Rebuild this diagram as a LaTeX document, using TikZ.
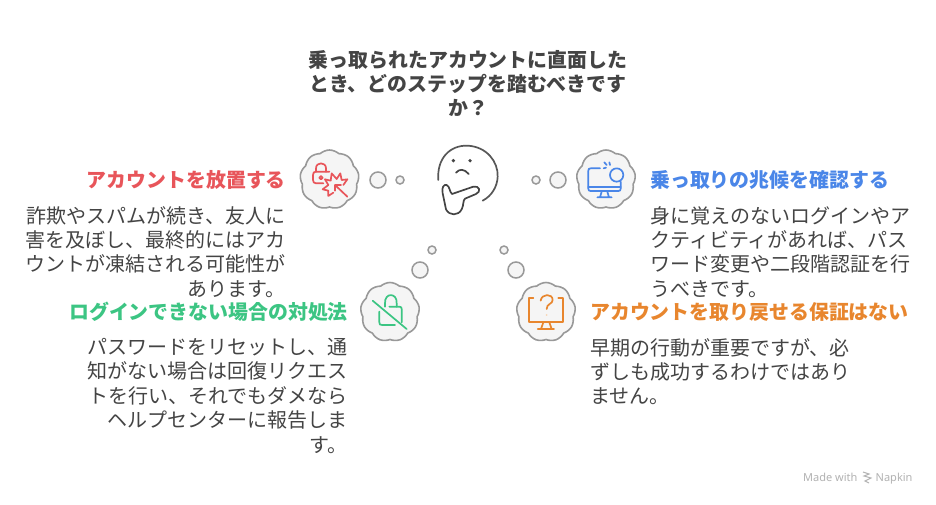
\documentclass[tikz,border=0pt]{standalone}
\usepackage{fontspec}
\setmainfont{Noto Sans CJK JP}
\newfontfamily\napkinfont{Noto Sans}
\usepackage{tikz}
\usetikzlibrary{shapes.symbols}
\definecolor{inkgray}{HTML}{444444}
\definecolor{edgegray}{HTML}{999999}
\definecolor{puffgray}{HTML}{F5F5F5}
\definecolor{redtone}{HTML}{E8555A}
\definecolor{bluetone}{HTML}{4A86E8}
\definecolor{greentone}{HTML}{3CC583}
\definecolor{orangetone}{HTML}{E8862E}
\tikzset{
  puff/.style={cloud, cloud puffs=9, cloud puff arc=85, aspect=1, draw=edgegray, fill=puffgray, line width=1.6pt, minimum width=59pt, minimum height=59pt, inner sep=0pt},
  bubble/.style={circle, draw=edgegray, fill=puffgray, line width=1.5pt, inner sep=0pt},
  bigbubble/.style={bubble, minimum size=16pt},
  smallbubble/.style={bubble, minimum size=8pt},
  heading/.style={inner sep=0pt, font=\fontsize{19.9}{24}\selectfont\bfseries},
  bodytext/.style={inner sep=0pt, text=inkgray, font=\fontsize{20}{24.4}\selectfont},
  icon/.style={line width=1.7pt, line cap=round, line join=round}
}
\begin{document}
\begin{tikzpicture}[x=1pt,y=-1pt]
  \useasboundingbox (0,0) rectangle (936,504);
  \fill[white] (0,0) rectangle (936,504);

  % title
  \node[heading, text=inkgray, align=center] (question) at (468,83.5) {乗っ取られたアカウントに直面した\\とき、どのステップを踏むべきです\\か？};

  % thinking face
  \begin{scope}[shift={(420,130)}, x=.3333pt, y=-.3333pt]
    \draw[icon, draw=inkgray!90] (55,150) .. controls (50,85) and (90,45) .. (143,47) .. controls (200,50) and (235,95) .. (233,140) .. controls (232,170) and (215,198) .. (188,212);
    \fill[inkgray] (100,92) circle (5.5) (150,92) circle (5.5);
    \draw[icon, draw=inkgray] (108,128) .. controls (118,116) and (133,116) .. (146,132);
    \draw[icon, draw=inkgray] (80,165) .. controls (90,170) and (88,185) .. (96,192) -- (160,170) .. controls (178,166) and (185,185) .. (168,192) -- (135,206) .. controls (128,212) and (132,225) .. (125,238) .. controls (115,258) and (88,258) .. (78,238) -- (68,190) .. controls (64,172) and (72,162) .. (80,165) -- cycle;
  \end{scope}

  % red branch
  \node[smallbubble] (redsmall) at (400,180) {};
  \node[bigbubble] (redbig) at (378,180) {};
  \node[puff] (redpuff) at (329.5,179.5) {};
  \begin{scope}[shift={(290,130)}, x=.3333pt, y=-.3333pt, icon, draw=redtone]
    \draw (100,160) -- (78,160) .. controls (72,160) and (69,156) .. (69,150) -- (69,135) .. controls (69,128) and (72,125) .. (78,125) -- (118,125);
    \draw (78,125) -- (78,115) .. controls (78,95) and (108,95) .. (108,115) -- (108,125);
    \draw (93,143) circle (5);
    \draw (105,148) -- (122,152) -- (125,130) -- (140,147) -- (151,130) -- (155,150) -- (172,148) -- (160,165);
    \draw (105,148) -- (115,165) -- (98,178) -- (115,182) -- (115,198) -- (130,188);
    \draw (172,200) -- (135,165) (135,182) -- (135,165) -- (153,165);
  \end{scope}
  \node[heading, text=redtone, anchor=east] (redtitle) at (286,180) {アカウントを放置する};
  \node[bodytext, align=right, anchor=north east] (redbody) at (285.5,206) {詐欺やスパムが続き、友人に\\害を及ぼし、最終的にはアカ\\ウントが凍結される可能性が\\あります。};

  % blue branch
  \node[smallbubble] (bluesmall) at (536,180) {};
  \node[bigbubble] (bluebig) at (558,180) {};
  \node[puff] (bluepuff) at (606,179.5) {};
  \begin{scope}[shift={(520,130)}, x=.3333pt, y=-.3333pt, icon, draw=bluetone]
    \draw (240,115) -- (212,115) .. controls (207,115) and (205,117) .. (205,122) -- (205,176) .. controls (205,181) and (207,183) .. (212,183) -- (295,183) .. controls (300,183) and (302,181) .. (302,176) -- (302,155);
    \draw (205,170) -- (302,170);
    \draw (245,185) -- (240,202) (262,185) -- (267,202) (232,202) -- (275,202);
    \draw (290,135) circle (20);
    \draw (253,97) -- (260,105) (268,97) -- (270,105) (251,115) -- (258,113);
  \end{scope}
  \node[heading, text=bluetone, anchor=west] (bluetitle) at (650,180) {乗っ取りの兆候を確認する};
  \node[bodytext, align=left, anchor=north west] (bluebody) at (650,206) {身に覚えのないログインやア\\クティビティがあれば、パス\\ワード変更や二段階認証を行\\うべきです。};

  % green branch
  \node[smallbubble] (greensmall) at (432,250) {};
  \node[bigbubble] (greenbig) at (420,270) {};
  \node[puff] (greenpuff) at (390,312) {};
  \begin{scope}[shift={(350,235)}, x=.3333pt, y=-.3333pt, icon, draw=greentone]
    \draw (68,197) -- (170,282);
    \draw (88,230) -- (88,262) .. controls (88,268) and (90,270) .. (96,270) -- (135,270);
    \draw (155,262) -- (155,222) .. controls (155,217) and (153,215) .. (148,215) -- (118,215);
    \draw (105,215) -- (105,205) .. controls (103,172) and (142,172) .. (140,205) -- (140,215);
  \end{scope}
  \node[heading, text=greentone, anchor=east] (greentitle) at (348,312) {ログインできない場合の対処法};
  \node[bodytext, align=right, anchor=north east] (greenbody) at (347.5,338) {パスワードをリセットし、通\\知がない場合は回復リクエス\\トを行い、それでもダメなら\\ヘルプセンターに報告しま\\す。};

  % orange branch
  \node[smallbubble] (orangesmall) at (504,250) {};
  \node[bigbubble] (orangebig) at (516,270) {};
  \node[puff] (orangepuff) at (546,312) {};
  \begin{scope}[shift={(490,235)}, x=.3333pt, y=-.3333pt, icon, draw=orangetone]
    \draw (130,190) -- (118,190) -- (118,262) -- (218,262) -- (218,190) -- (205,190);
    \draw (160,262) -- (153,282) (178,262) -- (185,282) (143,282) -- (192,282);
    \draw (152,197) .. controls (155,175) and (188,175) .. (188,195) .. controls (188,208) and (170,205) .. (170,222);
    \fill[orangetone!35] (170,240) circle (3);
  \end{scope}
  \node[heading, text=orangetone, anchor=west] (orangetitle) at (590,312) {アカウントを取り戻せる保証はない};
  \node[bodytext, align=left, anchor=north west] (orangebody) at (590,338) {早期の行動が重要ですが、必\\ずしも成功するわけではあり\\ません。};

  % watermark
  \node[inner sep=0pt, anchor=base west, text=black!30, font=\napkinfont\fontsize{11}{13}\selectfont] (madewith) at (803,481) {Made with};
  \node[inner sep=0pt, anchor=base west, text=black!30, font=\napkinfont\fontsize{11}{13}\selectfont] (napkin) at (875.5,481) {Napkin};
  \draw[black!30, line width=1pt] (863,472) -- (869,474) -- (864,476) -- (871,478) -- (865,481) -- (869,483);
\end{tikzpicture}
\end{document}
